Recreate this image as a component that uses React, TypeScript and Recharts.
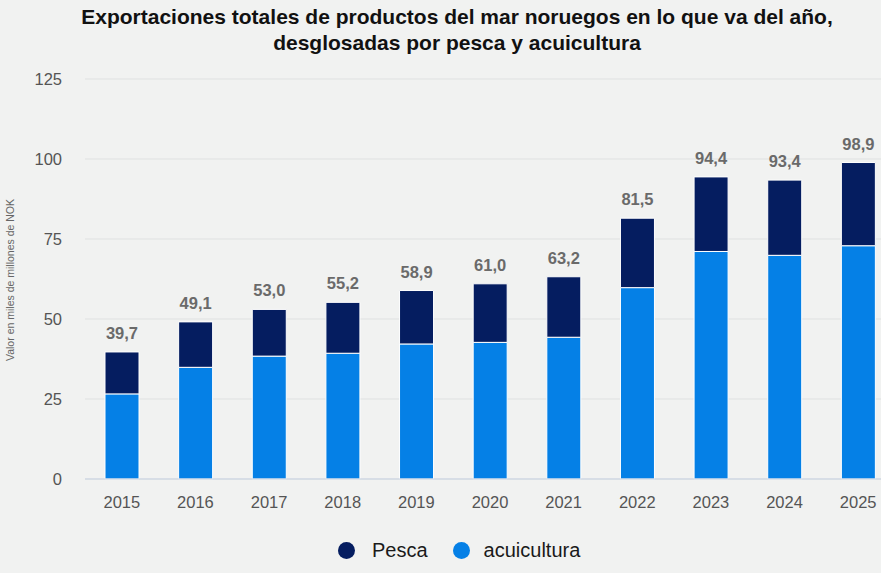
import { Bar, BarChart, CartesianGrid, LabelList, XAxis, YAxis } from "recharts";

const years = ["2015", "2016", "2017", "2018", "2019", "2020", "2021", "2022", "2023", "2024", "2025"];
const totals = [39.7, 49.1, 53.0, 55.2, 58.9, 61.0, 63.2, 81.5, 94.4, 93.4, 98.9];
const acuicultura = [26.6, 34.9, 38.4, 39.3, 42.2, 42.7, 44.3, 59.8, 71.1, 69.9, 72.9];
const yTicks = [0, 25, 50, 75, 100, 125];

const PESCA = "#051d60";
const ACUI = "#0580e6";
const FONT = "'Liberation Sans', Arial, sans-serif";

// pesca = total minus the aquaculture share
const data = years.map((year, i) => ({
  year,
  acuicultura: acuicultura[i],
  pesca: +(totals[i] - acuicultura[i]).toFixed(1),
}));

const fmt = (v: number) => v.toFixed(1).replace(".", ",");

function TotalLabel(props: any) {
  const { x, y, width, index } = props;
  return (
    <text
      x={x + width / 2}
      y={y - 13}
      textAnchor="middle"
      fill="#6a6a6a"
      fontSize={16.5}
      fontWeight="bold"
      fontFamily={FONT}
    >
      {fmt(totals[index])}
    </text>
  );
}

export default function App() {
  return (
    <div
      style={{
        position: "fixed",
        left: 0,
        top: 0,
        width: 881,
        height: 573,
        overflow: "hidden",
        background: "#f1f2f1",
        fontFamily: FONT,
      }}
    >
      <div
        style={{
          position: "absolute",
          left: 0,
          top: 4,
          width: 914,
          textAlign: "center",
          fontSize: 21,
          fontWeight: "bold",
          lineHeight: "26px",
          color: "#111",
        }}
      >
        Exportaciones totales de productos del mar noruegos en lo que va del año,
        <br />
        desglosadas por pesca y acuicultura
      </div>
      <div
        style={{
          position: "absolute",
          left: 10,
          top: 280,
          transform: "translate(-50%, -50%) rotate(-90deg)",
          whiteSpace: "nowrap",
          fontSize: 10.5,
          color: "#666",
        }}
      >
        Valor en miles de millones de NOK
      </div>
      <div style={{ position: "absolute", left: 0, top: 0 }}>
        <BarChart
          width={895}
          height={573}
          data={data}
          margin={{ top: 79, right: 0, left: 25, bottom: 0 }}
        >
          <CartesianGrid vertical={false} stroke="#dfe1e1" />
          <XAxis
            dataKey="year"
            height={94}
            tickLine={false}
            axisLine={{ stroke: "#c6d1e2" }}
            tickMargin={11}
            tick={{ fill: "#555", fontSize: 16.5, fontFamily: FONT }}
            interval={0}
          />
          <YAxis
            width={60}
            domain={[0, 125]}
            ticks={yTicks}
            tickLine={false}
            axisLine={false}
            tickMargin={17}
            tick={{ fill: "#555", fontSize: 16.5, fontFamily: FONT }}
          />
          <Bar
            dataKey="acuicultura"
            stackId="a"
            fill={ACUI}
            stroke="#fff"
            strokeWidth={1}
            barSize={34}
            isAnimationActive={false}
          />
          <Bar
            dataKey="pesca"
            stackId="a"
            fill={PESCA}
            stroke="#fff"
            strokeWidth={1}
            barSize={34}
            isAnimationActive={false}
          >
            <LabelList dataKey="pesca" content={TotalLabel} />
          </Bar>
        </BarChart>
      </div>
      <div
        style={{
          position: "absolute",
          left: 338,
          top: 539,
          display: "flex",
          alignItems: "center",
          fontSize: 20,
          color: "#1a1a1a",
        }}
      >
        <span style={{ width: 17, height: 17, borderRadius: "50%", background: PESCA, marginRight: 17 }} />
        <span style={{ marginRight: 25 }}>Pesca</span>
        <span style={{ width: 17, height: 17, borderRadius: "50%", background: ACUI, marginRight: 14 }} />
        <span>acuicultura</span>
      </div>
    </div>
  );
}
